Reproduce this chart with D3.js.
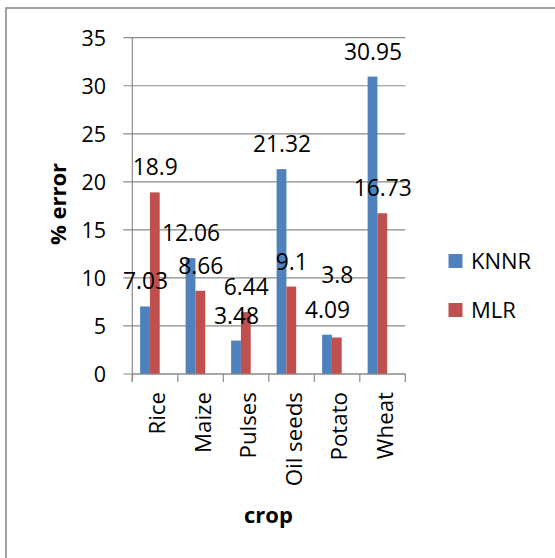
<!DOCTYPE html>
<html>
<head>
<meta charset="utf-8">
<script src="https://cdn.jsdelivr.net/npm/d3@7"></script>
<style>
  html, body { margin: 0; padding: 0; background: #fff; }
  svg { display: block; }
  text { font-family: "Open Sans", "Liberation Sans", sans-serif; fill: #000; }
</style>
</head>
<body>
<script>
// ---- data ----
const categories = ["Rice", "Maize", "Pulses", "Oil seeds", "Potato", "Wheat"];
const seriesNames = ["KNNR", "MLR"];
const knnr = [7.03, 12.06, 3.48, 21.32, 4.09, 30.95];
const mlr  = [18.9, 8.66, 6.44, 9.1, 3.8, 16.73];
const yTicks = [0, 5, 10, 15, 20, 25, 30, 35];
const colors = ["#4F81BD", "#C0504D"];

const W = 555, H = 558;
const svg = d3.select("body").append("svg").attr("width", W).attr("height", H);

// outer border
svg.append("rect").attr("x", 6).attr("y", 8).attr("width", W + 10).attr("height", H + 10)
  .attr("fill", "none").attr("stroke", "#8c8c8c").attr("stroke-width", 1.6);

const plot = { left: 132.3, right: 405.3, top: 37.7, bottom: 374 };

const x = d3.scaleBand().domain(categories).range([plot.left, plot.right]).paddingInner(0).paddingOuter(0);
const y = d3.scaleLinear().domain([0, 35]).range([plot.bottom, plot.top]);

const gridColor = "#8a8a8a";

// gridlines + left ticks
svg.append("g").selectAll("line").data(yTicks).join("line")
  .attr("x1", plot.left - 9).attr("x2", plot.right)
  .attr("y1", d => y(d)).attr("y2", d => y(d))
  .attr("stroke", gridColor).attr("stroke-width", 1.2);

// y axis line
svg.append("line").attr("x1", plot.left).attr("x2", plot.left)
  .attr("y1", plot.top).attr("y2", plot.bottom + 8)
  .attr("stroke", gridColor).attr("stroke-width", 1.2);

// x-axis category ticks
const bounds = categories.map(c => x(c)).concat([plot.right]);
svg.append("g").selectAll("line").data(bounds).join("line")
  .attr("x1", d => d).attr("x2", d => d)
  .attr("y1", plot.bottom).attr("y2", plot.bottom + 8)
  .attr("stroke", gridColor).attr("stroke-width", 1.2);

// y tick labels
svg.append("g").selectAll("text").data(yTicks).join("text")
  .attr("x", 106).attr("y", d => y(d) + 7.8)
  .attr("text-anchor", "end").attr("font-size", 21.5)
  .text(d => d);

// bars
const bw = x.bandwidth();
const barOffset = bw * 0.172, barW = bw * 0.215;
const series = [knnr, mlr];
series.forEach((vals, si) => {
  const g = svg.append("g");
  g.selectAll("rect").data(vals).join("rect")
    .attr("x", (d, i) => x(categories[i]) + barOffset + si * barW)
    .attr("y", d => y(d))
    .attr("width", barW)
    .attr("height", d => y(0) - y(d))
    .attr("fill", colors[si]);
});

// redraw x axis line above bars
svg.append("line").attr("x1", plot.left).attr("x2", plot.right)
  .attr("y1", plot.bottom).attr("y2", plot.bottom)
  .attr("stroke", gridColor).attr("stroke-width", 1.2);

// data labels
series.forEach((vals, si) => {
  svg.append("g").selectAll("text").data(vals).join("text")
    .attr("x", (d, i) => x(categories[i]) + barOffset + si * barW + barW / 2 + 0.5)
    .attr("y", (d, i) => y(d) - 17 - ((si === 1 && categories[i] === "Potato") ? 37 : 0))
    .attr("text-anchor", "middle").attr("font-size", 22.8)
    .text(d => d);
});

// category labels (rotated)
svg.append("g").selectAll("text").data(categories).join("text")
  .attr("transform", d => `translate(${x(d) + bw / 2 + 10},${plot.bottom + 18}) rotate(-90)`)
  .attr("text-anchor", "end").attr("font-size", 22.3)
  .text(d => d);

// axis titles
svg.append("text").attr("x", 268.5).attr("y", 523)
  .attr("text-anchor", "middle").attr("font-size", 22).attr("font-weight", "bold")
  .text("crop");
svg.append("text").attr("transform", "translate(65.5,204) rotate(-90)")
  .attr("text-anchor", "middle").attr("font-size", 22).attr("font-weight", "bold")
  .text("% error");

// legend
const legY = [254, 303];
seriesNames.forEach((n, i) => {
  svg.append("rect").attr("x", 448.5).attr("y", legY[i]).attr("width", 14).attr("height", 14)
    .attr("fill", colors[i]);
  svg.append("text").attr("x", 471).attr("y", legY[i] + 14.5)
    .attr("font-size", 22).text(n);
});
</script>
</body>
</html>
